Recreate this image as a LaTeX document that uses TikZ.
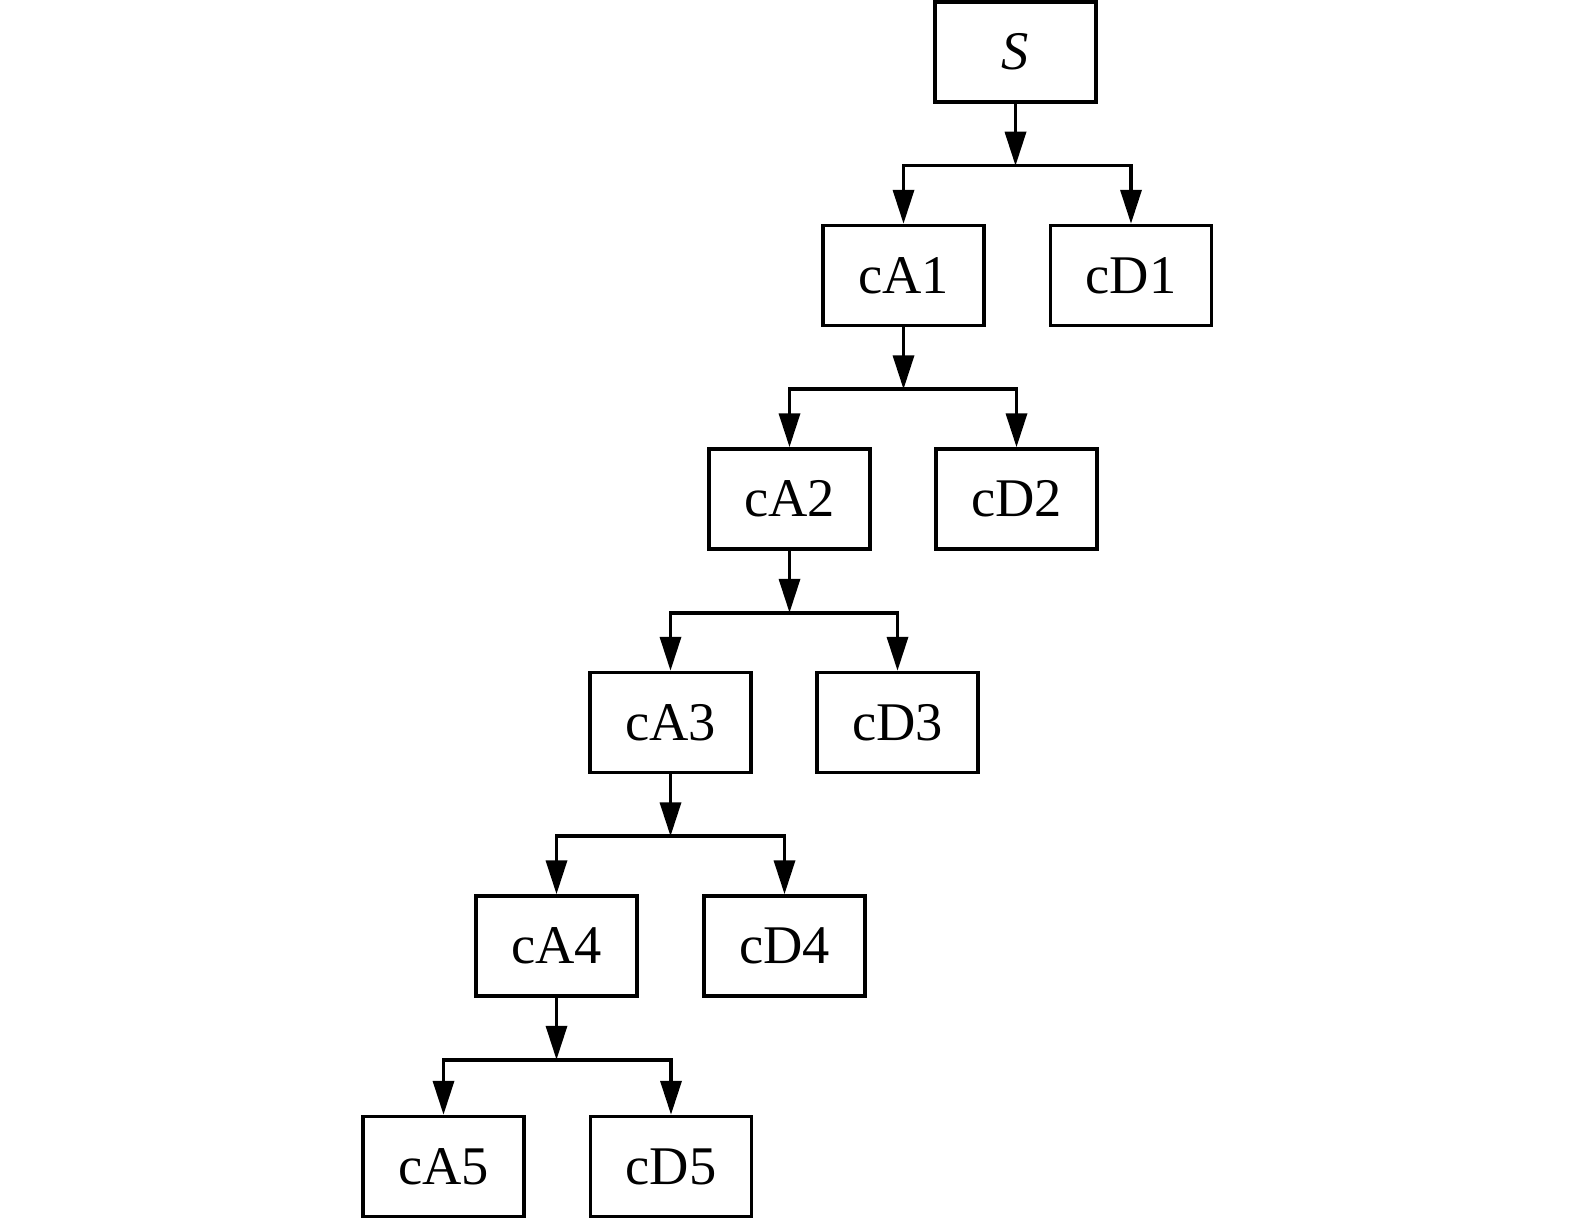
\documentclass[tikz,border=0pt]{standalone}
\usepackage{fontspec}
\setmainfont{Liberation Serif}
\usetikzlibrary{arrows.meta,calc}
\begin{document}
\begin{tikzpicture}[x=0.02cm,y=-0.02cm,
  box/.style={draw,line width=2pt,minimum width=3.22cm,minimum height=2.0cm,inner sep=0pt,font=\fontsize{31}{36}\selectfont},
  arr/.style={line width=2pt,-{Triangle[length=0.68cm,width=0.42cm]}},
  darr/.style={line width=2pt,{Triangle[length=0.68cm,width=0.42cm]}-{Triangle[length=0.68cm,width=0.42cm]}}]
\useasboundingbox (0,0) rectangle (1575,1219);
\node[box] (S) at (1015.5,52) {\textit{S}};
\node[box] (A1) at (903.5,275.5) {cA1};
\node[box] (D1) at (1131,275.5) {cD1};
\node[box] (A2) at (789.5,499) {cA2};
\node[box] (D2) at (1016.5,499) {cD2};
\node[box] (A3) at (670.5,722.5) {cA3};
\node[box] (D3) at (897.5,722.5) {cD3};
\node[box] (A4) at (556.5,946) {cA4};
\node[box] (D4) at (784.5,946) {cD4};
\node[box] (A5) at (443.5,1166.5) {cA5};
\node[box] (D5) at (671,1166.5) {cD5};
\foreach \p/\a/\d in {S/A1/D1,A1/A2/D2,A2/A3/D3,A3/A4/D4,A4/A5/D5}{
  \coordinate (J\p) at ($(\p.south)+(0,62)$);
  \draw[arr] (\p.south) -- (J\p);
  \draw[darr] (\a.north) -- (\a.north |- J\p) -- (\d.north |- J\p) -- (\d.north);
}
\end{tikzpicture}
\end{document}
